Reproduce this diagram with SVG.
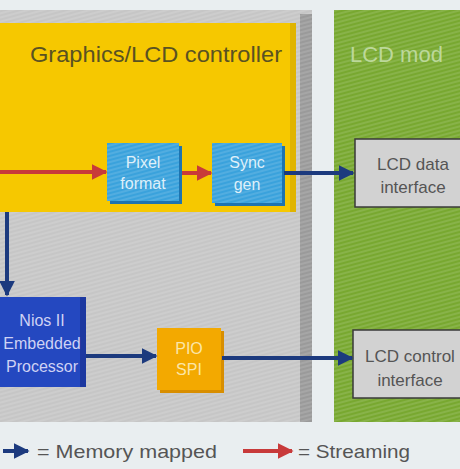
<svg xmlns="http://www.w3.org/2000/svg" width="460" height="469" viewBox="0 0 460 469">
<defs>
<marker id="ab" viewBox="0 0 10 10" refX="9" refY="5" markerWidth="4" markerHeight="4" orient="auto" markerUnits="strokeWidth"><path d="M0,0 L10,5 L0,10 z" fill="#1c3a7e"/></marker>
<marker id="ar" viewBox="0 0 10 10" refX="9" refY="5" markerWidth="4" markerHeight="4" orient="auto" markerUnits="strokeWidth"><path d="M0,0 L10,5 L0,10 z" fill="#c83a3a"/></marker>
<pattern id="stripes" width="4" height="4" patternUnits="userSpaceOnUse" patternTransform="rotate(-15)"><rect width="4" height="2" fill="#ffffff" opacity="0.12"/></pattern>
</defs>
<style>
text{font-family:"Liberation Sans","DejaVu Sans",sans-serif}
.mm{stroke:#1c3a7e;stroke-width:4;fill:none;marker-end:url(#ab)}
.st{stroke:#c83a3a;stroke-width:4;fill:none;marker-end:url(#ar)}
.blue{fill:#3aa2dc}
.wt{fill:#dff0fa;font-size:16px;text-anchor:middle}
.if{fill:#d2d2d2;stroke:#3a3a3a;stroke-width:1.5}
.it{fill:#555;font-size:17px;text-anchor:middle}
.nt{fill:#cfd2f4;font-size:16px;text-anchor:middle}
</style>
<rect width="460" height="469" fill="#e9eef0"/>
<g id="fpga">
<rect x="0" y="10" width="312" height="412" fill="#c6c6c6"/>
<rect x="300" y="14" width="12" height="408" fill="#9a9a9a"/>
<rect x="0" y="10" width="312" height="412" fill="url(#stripes)"/>
</g>
<g id="graphics-controller">
<rect x="0" y="23" width="296" height="189" fill="#f6c800"/>
<rect x="290" y="23" width="6" height="189" fill="#e0b400"/>
<text x="30" y="62" font-size="22" fill="#5a5222" textLength="252" lengthAdjust="spacingAndGlyphs">Graphics/LCD controller</text>
</g>
<g id="lcd-module">
<rect x="334" y="10" width="126" height="412" fill="#78a830"/>
<rect x="334" y="10" width="126" height="412" fill="url(#stripes)"/>
<text x="350" y="62" font-size="22" fill="#bcd89a">LCD mod</text>
</g>
<g id="pixel-format">
<rect x="110" y="146" width="72" height="58" fill="#1e74b0"/>
<rect x="107" y="143" width="72" height="58" class="blue"/>
<rect x="107" y="143" width="72" height="58" fill="url(#stripes)"/>
<text class="wt" x="143" y="168">Pixel</text>
<text class="wt" x="143" y="189">format</text>
</g>
<g id="sync-gen">
<rect x="215" y="146" width="70" height="60" fill="#1e74b0"/>
<rect x="212" y="143" width="70" height="60" class="blue"/>
<rect x="212" y="143" width="70" height="60" fill="url(#stripes)"/>
<text class="wt" x="247" y="168">Sync</text>
<text class="wt" x="247" y="190">gen</text>
</g>
<g id="nios">
<rect x="0" y="297" width="86" height="90" fill="#2448c0"/>
<rect x="80" y="297" width="6" height="90" fill="#1c38a0"/>
<text class="nt" x="42" y="326">Nios II</text>
<text class="nt" x="42" y="349">Embedded</text>
<text class="nt" x="42" y="372">Processor</text>
</g>
<g id="pio-spi">
<rect x="160" y="331" width="64" height="62" fill="#d88e00"/>
<rect x="157" y="328" width="64" height="62" fill="#f3a900"/>
<text x="189" y="354" font-size="16" fill="#fbe6a8" text-anchor="middle">PIO</text>
<text x="189" y="375" font-size="16" fill="#fbe6a8" text-anchor="middle">SPI</text>
</g>
<g id="lcd-data-interface">
<rect class="if" x="355" y="139" width="115" height="68"/>
<text class="it" x="413" y="170">LCD data</text>
<text class="it" x="413" y="193">interface</text>
</g>
<g id="lcd-control-interface">
<rect class="if" x="353" y="330" width="117" height="68"/>
<text class="it" x="410" y="362">LCD control</text>
<text class="it" x="410" y="386">interface</text>
</g>
<g id="connectors">
<line class="st" x1="0" y1="172" x2="106" y2="172"/>
<line class="st" x1="182" y1="173" x2="211" y2="173"/>
<line class="mm" x1="284" y1="173" x2="353" y2="173"/>
<line class="mm" x1="7" y1="212" x2="7" y2="295"/>
<line class="mm" x1="86" y1="356" x2="156" y2="356"/>
<line class="mm" x1="222" y1="358" x2="352" y2="358"/>
</g>
<g id="legend">
<line class="mm" x1="3" y1="451" x2="28" y2="451"/>
<text x="37" y="458" font-size="19" fill="#555" textLength="180" lengthAdjust="spacingAndGlyphs">= Memory mapped</text>
<line class="st" x1="243" y1="451" x2="292" y2="451"/>
<text x="298" y="458" font-size="19" fill="#555" textLength="112" lengthAdjust="spacingAndGlyphs">= Streaming</text>
</g>
</svg>
